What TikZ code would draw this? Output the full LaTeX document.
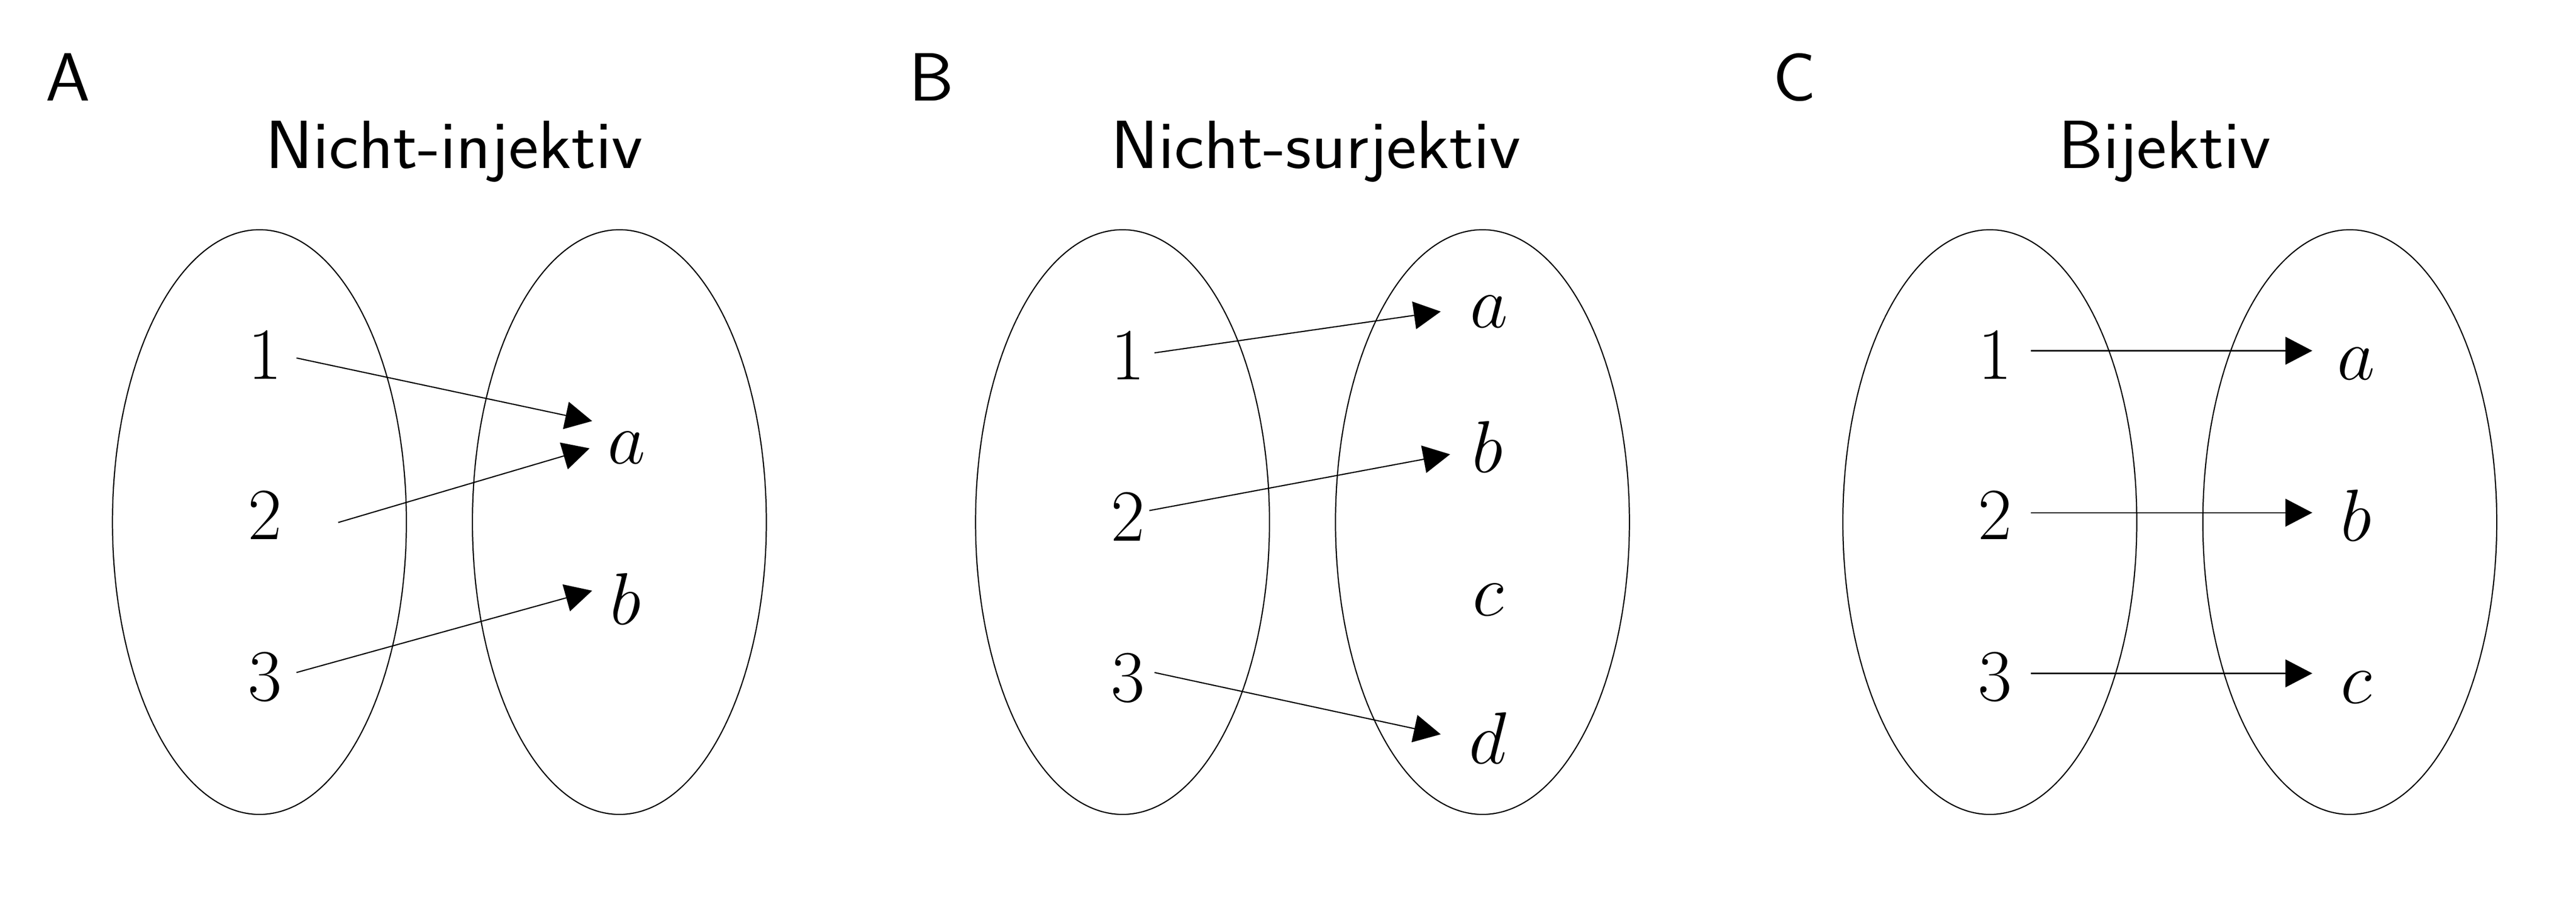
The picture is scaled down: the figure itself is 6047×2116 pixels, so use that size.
\documentclass[tikz,border=0pt]{standalone}
\usepackage{fontspec}
\usetikzlibrary{arrows.meta,calc,shapes.geometric}
\newfontfamily\ttlfont{Latin Modern Sans}[FakeStretch=1.05]
\begin{document}
\begin{tikzpicture}[x=0.1pt,y=-0.1pt,
  setshape/.style={draw, ellipse, line width=0.27pt, minimum width=69pt, minimum height=137.2pt, inner sep=0pt, outer sep=0pt},
  elem/.style={inner sep=0pt, anchor=base, font=\fontsize{17}{20}\selectfont},
  ttl/.style={inner sep=0pt, anchor=base, font=\ttlfont\fontsize{16}{19}\selectfont},
  arr/.style={line width=0.27pt, -{Triangle[length=6.3pt,width=6.5pt]}}]
\useasboundingbox (0,0) rectangle (6047,2116);
% panel labels and titles
\node[ttl] (labA) at (160,237) {A};
\node[ttl] (labB) at (2187,237) {B};
\node[ttl] (labC) at (4213,237) {C};
\node[ttl] (tA) at (1066,395) {Nicht-injektiv};
\node[ttl] (tB) at (3089,395) {Nicht-surjektiv};
\node[ttl] (tC) at (5081,395) {Bijektiv};
% ellipses
\node[setshape] (AL) at (609,1225) {};
\node[setshape] (AR) at (1454,1225) {};
\node[setshape] (BL) at (2635,1225) {};
\node[setshape] (BR) at (3480,1225) {};
\node[setshape] (CL) at (4671,1225) {};
\node[setshape] (CR) at (5516,1225) {};
% panel A
\node[elem] (A1) at (622,889) {$1$};
\node[elem] (A2) at (622,1266) {$2$};
\node[elem] (A3) at (622,1644) {$3$};
\node[elem] (Aa) at (1471,1088) {$a$};
\node[elem] (Ab) at (1469,1465) {$b$};
\draw[arr] ($(A1.base)+(74,-49)$) -- ($(Aa.base)+(-81,-100)$);
\draw[arr] ($(A2.base)+(172,-40)$) -- ($(Aa.base)+(-87,-36)$);
\draw[arr] ($(A3.base)+(74,-66)$) -- ($(Ab.base)+(-79,-79)$);
% panel B
\node[elem] (B1) at (2648,891) {$1$};
\node[elem] (B2) at (2648,1269) {$2$};
\node[elem] (B3) at (2648,1647) {$3$};
\node[elem] (Ba) at (3495,768) {$a$};
\node[elem] (Bb) at (3492,1108) {$b$};
\node[elem] (Bc) at (3493,1445) {$c$};
\node[elem] (Bd) at (3493,1792) {$d$};
\draw[arr] ($(B1.base)+(62,-63)$) -- ($(Ba.base)+(-113,-37)$);
\draw[arr] ($(B2.base)+(50,-71)$) -- ($(Bb.base)+(-88,-42)$);
\draw[arr] ($(B3.base)+(62,-69)$) -- ($(Bd.base)+(-111,-69)$);
% panel C
\node[elem] (C1) at (4683,889) {$1$};
\node[elem] (C2) at (4683,1266) {$2$};
\node[elem] (C3) at (4683,1644) {$3$};
\node[elem] (Ca) at (5531,891) {$a$};
\node[elem] (Cb) at (5531,1269) {$b$};
\node[elem] (Cc) at (5531,1650) {$c$};
\draw[arr] ($(C1.base)+(84,-66)$) -- ($(Ca.base)+(-103,-68)$);
\draw[arr] ($(C2.base)+(84,-63)$) -- ($(Cb.base)+(-103,-66)$);
\draw[arr] ($(C3.base)+(84,-64)$) -- ($(Cc.base)+(-103,-70)$);
\end{tikzpicture}
\end{document}
